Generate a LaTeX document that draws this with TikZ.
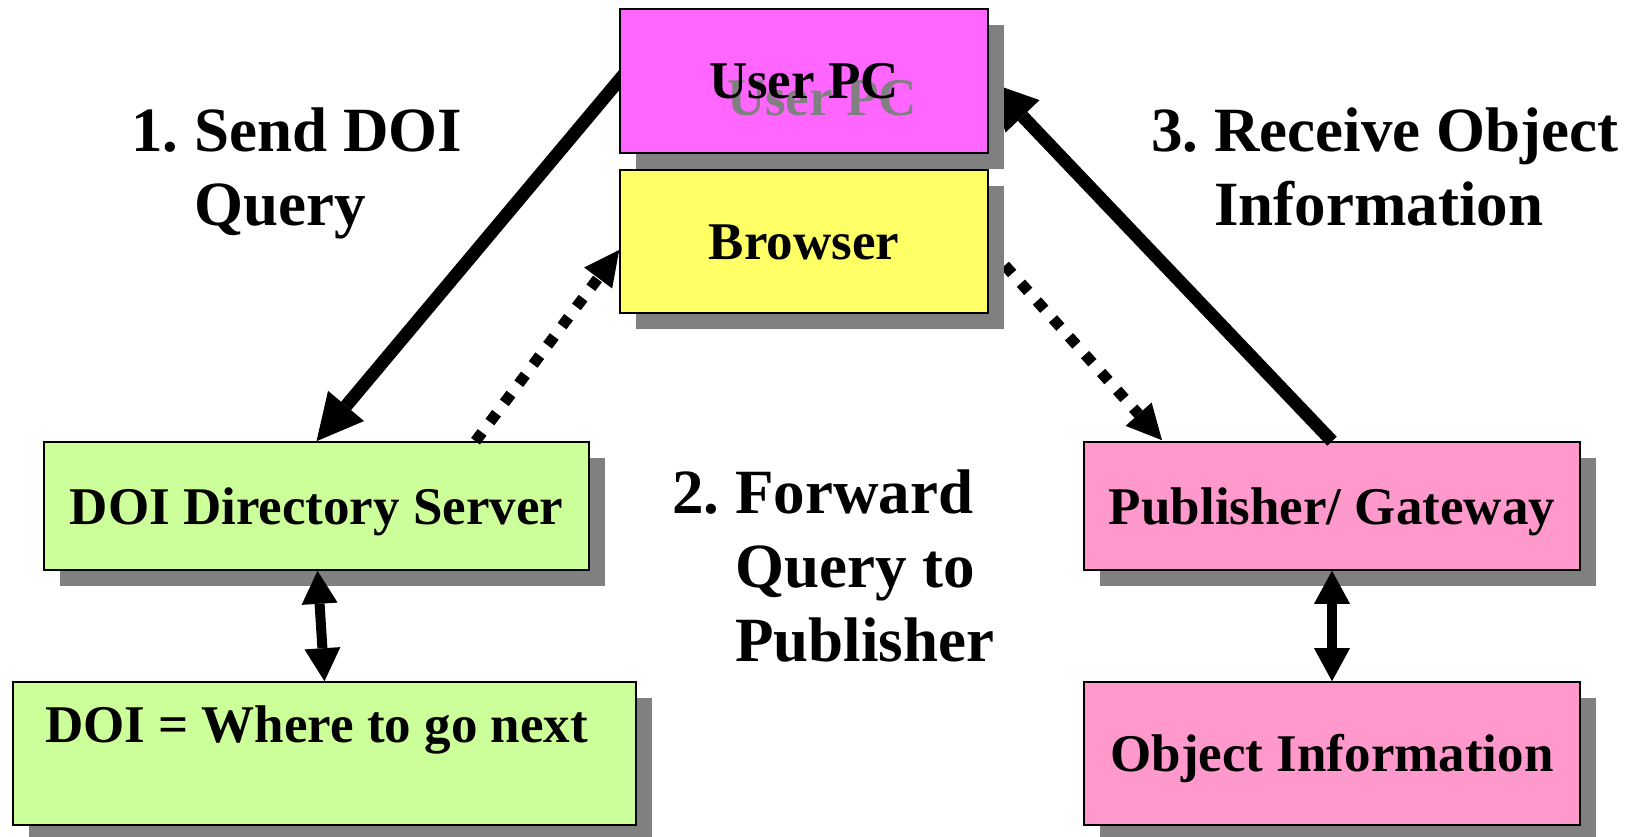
\documentclass[tikz,border=0pt]{standalone}
\usepackage{fontspec}
\setmainfont{Liberation Serif}
\usetikzlibrary{arrows.meta,shadows,calc}
\definecolor{pcmag}{HTML}{FF66FF}
\definecolor{brwyel}{HTML}{FFFF66}
\definecolor{dgreen}{HTML}{CCFF99}
\definecolor{ppink}{HTML}{FF99CC}
\definecolor{shgray}{HTML}{808080}
\pgfdeclarelayer{back}
\pgfdeclarelayer{mid}
\pgfsetlayers{back,mid,main}
\frenchspacing
\begin{document}
\begin{tikzpicture}[x=1pt,y=-1pt,
  box/.style={draw=black, line width=1.6pt, inner sep=0pt,
    font=\fontsize{53}{60}\selectfont\bfseries, text height=36pt, text depth=0pt,
    drop shadow={shadow xshift=16pt, shadow yshift=-16pt, fill=shgray, draw=none, opacity=1}},
  lbl/.style={anchor=base west, inner sep=0pt, font=\fontsize{63}{74}\selectfont\bfseries},
  solidarrow/.style={line width=13pt, -{Triangle[length=46pt,width=47pt,line width=0pt]}},
  dotarrow/.style={line width=11pt, dash pattern=on 11pt off 13pt, -{Triangle[length=35pt,width=35pt,line width=0pt]}},
  dblarrow/.style={line width=10pt, {Triangle[length=33pt,width=36pt,line width=0pt]}-{Triangle[length=33pt,width=36pt,line width=0pt]}},
]
\useasboundingbox (0,0) rectangle (1645,837);

\begin{pgfonlayer}{back}
\node[box, fill=dgreen, minimum width=545pt, minimum height=128pt] (dds) at (316.5,506) {DOI Directory Server};
\node[box, fill=dgreen, minimum width=623pt, minimum height=143pt, text height=60pt, text depth=83pt] (dwn) at (324.5,753.5) {DOI = Where to go next\hspace*{16pt}};
\node[box, fill=ppink, minimum width=496pt, minimum height=128pt] (pub) at (1332,506) {Publisher/ Gateway};
\node[box, fill=ppink, minimum width=496pt, minimum height=143pt] (obj) at (1332,753.5) {Object Information};
\end{pgfonlayer}

\node[box, fill=pcmag, minimum width=368pt, minimum height=144pt] (upc) at (804,81)
  {\rlap{\hspace{18pt}\raisebox{-17pt}[0pt][0pt]{\color{shgray}User PC}}User PC};
\node[box, fill=brwyel, minimum width=368pt, minimum height=143pt] (brw) at (804,241.5) {Browser};

\node[lbl] (l1) at (131,152) {\begin{tabular}[t]{@{}l@{}}1. Send DOI\\\hphantom{1.} Query\end{tabular}};
\node[lbl] (l2) at (672,513) {\begin{tabular}[t]{@{}l@{}}2. Forward\\\hphantom{2.} Query to\\\hphantom{2.} Publisher\end{tabular}};
\node[lbl] (l3) at (1151,152) {\begin{tabular}[t]{@{}l@{}}3. Receive Object\\\hphantom{3.} Information\end{tabular}};

\begin{pgfonlayer}{mid}
\draw[solidarrow] ($(upc.west)+(16,-20)$) -- (dds.north);
\draw[solidarrow] (pub.north) -- ($(upc.east)+(2,2)$);
\draw[dotarrow] ($(dds.north)+(159,0)$) -- ($(brw.west)+(0,8.5)$);
\draw[dotarrow] ($(brw.east)+(0,6)$) -- ($(pub.north)+(-170,-1)$);
\draw[dblarrow] ($(dds.south)+(1,0)$) -- (dwn.north);
\draw[dblarrow] (pub.south) -- (obj.north);
\end{pgfonlayer}
\end{tikzpicture}
\end{document}
